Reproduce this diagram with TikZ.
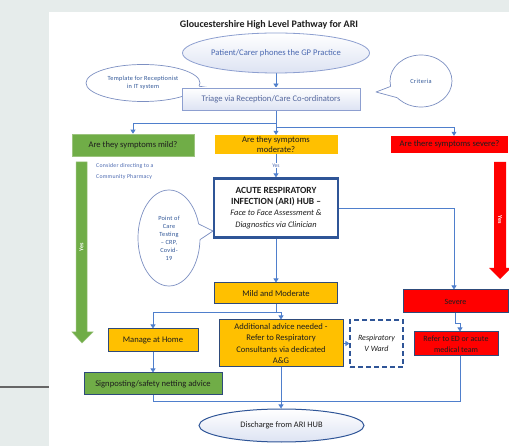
\documentclass[tikz,border=0pt]{standalone}
\usepackage{fontspec}
\setmainfont{Carlito}
\usetikzlibrary{shapes.geometric,arrows.meta}
\pgfdeclarelayer{background}
\pgfsetlayers{background,main}
\definecolor{bg}{HTML}{E6ECEB}
\definecolor{conn}{HTML}{4F7FCC}
\definecolor{dkblue}{HTML}{2F5597}
\definecolor{bxborder}{HTML}{2E4A7A}
\definecolor{gr}{HTML}{70AD47}
\definecolor{grb}{HTML}{9CC47E}
\definecolor{yl}{HTML}{FFC000}
\definecolor{rd}{HTML}{FF0000}
\definecolor{lav}{HTML}{DDE3F3}
\definecolor{lavb}{HTML}{8D9FD0}
\definecolor{txtblue}{HTML}{4A68B0}
\definecolor{txtgray}{HTML}{55689E}
\definecolor{callb}{HTML}{7D90C2}
\definecolor{dark}{HTML}{1E1E1E}
\tikzset{
  arr/.style={draw=conn, line width=0.8pt, -{Triangle[width=5pt,length=4pt]}},
  ln/.style={draw=conn, line width=0.8pt},
  boxq/.style={rectangle, inner sep=1pt, align=center, text=dark, font=\fontsize{8.6}{10}\selectfont},
  ybox/.style={boxq, fill=yl, draw=bxborder, line width=1pt},
  rbox/.style={boxq, fill=rd, draw=bxborder, line width=1pt},
  gbox/.style={boxq, fill=gr, draw=bxborder, line width=1pt},
  lavshade/.style={top color=white, bottom color=lav},
  callell/.style={ellipse, draw=callb, fill=white, line width=0.7pt, align=center, text=dkblue, inner sep=0pt},
  bigtext/.style={text=white, font=\fontsize{6}{7}\selectfont\bfseries},
}
% tail of a speech ellipse: #1 centre node, #2 rx, #3 ry, #4 angle1, #5 angle2, #6 tip
\newcommand\mytail[6]{%
  \fill[white] ([shift={(#1.center)}]#4:#2-3 and #3-3) -- ([shift={(#1.center)}]#4:#2+0.5 and #3+0.5) -- (#6)
     -- ([shift={(#1.center)}]#5:#2+0.5 and #3+0.5) -- ([shift={(#1.center)}]#5:#2-3 and #3-3) -- cycle;
  \draw[callb, line width=0.7pt, line join=round] ([shift={(#1.center)}]#4:#2 and #3) -- (#6) -- ([shift={(#1.center)}]#5:#2 and #3);
}
\begin{document}
\begin{tikzpicture}[x=1pt,y=-1pt]
\useasboundingbox (0,0) rectangle (509,446);
\begin{pgfonlayer}{background}
\fill[bg] (0,0) rectangle (509,446);
\fill[white] (49,12) rectangle (509,446);
\draw[color=black!60, line width=1.3pt] (0,387) -- (49,387);
\end{pgfonlayer}

% title
\node[font=\fontsize{10}{12}\selectfont\bfseries, text=dark] (title) at (269,25) {Gloucestershire High Level Pathway for ARI};

\coordinate (tplptr) at (218,89);
\coordinate (critptr) at (376,92);
\coordinate (pocptr) at (213,231);

% top
\node[ellipse, draw=lavb, lavshade, line width=0.8pt, minimum width=187pt, minimum height=40pt, inner sep=0pt, text=txtblue, font=\fontsize{8.6}{10}\selectfont] (patient) at (276,53) {Patient/Carer phones the GP Practice};

\node[callell, minimum width=114pt, minimum height=37pt, font=\fontsize{6.3}{8.5}\selectfont\addfontfeature{LetterSpace=4}] (tpl) at (143,83) {Template for Receptionist\\in IT system};
\mytail{tpl}{57}{18.5}{10}{38}{tplptr}
\node[callell, minimum width=62pt, minimum height=52pt, font=\fontsize{6.3}{8}\selectfont\addfontfeature{LetterSpace=6}] (crit) at (421,81) {Criteria};
\mytail{crit}{31}{26}{140}{168}{critptr}

\node[rectangle, draw=lavb, lavshade, line width=0.8pt, minimum width=178pt, minimum height=22pt, inner sep=0pt, text=txtgray, font=\fontsize{8.6}{10}\selectfont] (triage) at (271,99) {Triage via Reception/Care Co-ordinators};

% question boxes
\node[boxq, fill=gr, draw=grb, line width=0.6pt, minimum width=122pt, minimum height=22pt] (mild) at (133,145) {Are they symptoms mild?};
\node[boxq, fill=yl, minimum width=123pt, minimum height=19pt, font=\fontsize{8.6}{9.5}\selectfont] (moderate) at (276,144.5) {Are they symptoms\\moderate?};
\node[boxq, fill=rd, minimum width=117pt, minimum height=17pt] (severeq) at (449.5,144.5) {Are there symptoms severe?};

% consider text
\node[anchor=west, align=left, text=txtblue, font=\fontsize{5.8}{11}\selectfont\addfontfeature{LetterSpace=4}, inner sep=0pt] (consider) at (96,171.5) {Consider directing to a\\Community Pharmacy};

% big arrows
\draw[fill=gr, draw=grb, line width=0.5pt] (76,162) -- (87,162) -- (87,332) -- (93,332) -- (82,343) -- (72,332) -- (76,332) -- cycle;
\node[bigtext, rotate=90] (yesg) at (81.5,247) {Yes};
\fill[rd] (494,162) -- (506,162) -- (506,268) -- (511,268) -- (500,279) -- (489,268) -- (494,268) -- cycle;
\node[bigtext, rotate=-90] (yesr) at (500,220) {Yes};

% ARI hub
\node[rectangle, draw=dkblue, line width=2.2pt, fill=white, minimum width=124pt, minimum height=59pt, align=center, inner sep=0pt, text=dark] (ari) at (276,208)
  {\fontsize{9.4}{11.5}\selectfont\bfseries ACUTE RESPIRATORY\\[-0.5pt]
   \fontsize{9.4}{11.5}\selectfont\bfseries INFECTION (ARI) HUB --\\[-1pt]
   \fontsize{8.4}{10.5}\selectfont\itshape Face to Face Assessment \&\\
   \fontsize{8.4}{10.5}\selectfont\itshape Diagnostics via Clinician};

\node[callell, minimum width=62pt, minimum height=96pt, font=\fontsize{6.3}{8}\selectfont\addfontfeature{LetterSpace=4}] (poc) at (169,238) {Point of\\Care\\Testing\\-- CRP,\\Covid-\\19};
\mytail{poc}{31}{48}{-17}{2}{pocptr}

% lower boxes
\node[ybox, minimum width=123pt, minimum height=21pt] (mildmod) at (276,293.5) {Mild and Moderate};
\node[ybox, minimum width=90pt, minimum height=23pt] (home) at (153,340.5) {Manage at Home};
\node[ybox, minimum width=124pt, minimum height=47pt, font=\fontsize{8.6}{11.3}\selectfont] (addl) at (281,343.5) {Additional advice needed -\\Refer to Respiratory\\Consultants via dedicated\\A\&G};
\node[rectangle, draw=dkblue, dashed, dash pattern=on 5pt off 3pt, line width=1.1pt, fill=white, minimum width=53pt, minimum height=47pt, align=center, inner sep=0pt, text=dark, font=\fontsize{8}{11}\selectfont\itshape] (vward) at (376.5,343.5) {Respiratory\\V Ward};
\node[rbox, minimum width=105pt, minimum height=23pt, font=\fontsize{8}{10}\selectfont] (severe) at (455.5,301.5) {Severe};
\node[rbox, minimum width=84pt, minimum height=24pt, font=\fontsize{8}{11}\selectfont] (refer) at (456,344) {Refer to ED or acute\\medical team};
\node[gbox, minimum width=138pt, minimum height=22pt] (sign) at (153,384) {Signposting/safety netting advice};
\node[ellipse, draw=dkblue, top color=white, bottom color=lav, line width=1pt, minimum width=165pt, minimum height=33pt, inner sep=0pt, text=dark, font=\fontsize{8.4}{10}\selectfont] (discharge) at (281.5,425.5) {Discharge from ARI HUB};

% connectors
\begin{pgfonlayer}{background}
\coordinate (sp) at (276,0);
\coordinate (xsev) at (454,0);
\coordinate (xsevb) at (455,0);
\coordinate (xref) at (460,0);
\coordinate (xdis) at (281,0);
\coordinate (jl) at (276,123);
\coordinate (jr) at (276,127);
\coordinate (jm) at (276,312);
\coordinate (js) at (455,323);
\coordinate (jd) at (153,401);
\draw[arr] (patient.south) -- (patient.south |- triage.north);
\draw[ln] (triage.south -| sp) -- (jr);
\draw[arr] (jl) -| (mild.north);
\draw[arr] (jr) -| (severeq.north -| xsev);
\draw[arr] (jr) -- (moderate.north);
\draw[arr] (moderate.south) -- node[fill=white, inner sep=0.6pt, text=txtblue, font=\fontsize{5.5}{6}\selectfont] (yesm) {Yes} (ari.north);
\draw[arr] (ari.east) -| (severe.north -| xsev);
\draw[arr] (ari.south) -- (mildmod.north);
\draw[ln] (mildmod.south) -- (jm);
\draw[arr] (jm) -| (home.north);
\draw[arr] (jm) -| (addl.north);
\draw[arr] (addl.east) -- (vward.west);
\draw[ln] (severe.south -| xsevb) -- (js);
\draw[arr] (js) -| (refer.north -| xref);
\draw[ln] (refer.south -| xref) |- (jd -| xdis);
\draw[arr] (home.south) -- (sign.north);
\draw[arr] (sign.south) -- (jd) -| (discharge.north -| xdis);
\draw[ln] (addl.south) -- (jd -| xdis);
\end{pgfonlayer}
\end{tikzpicture}
\end{document}
